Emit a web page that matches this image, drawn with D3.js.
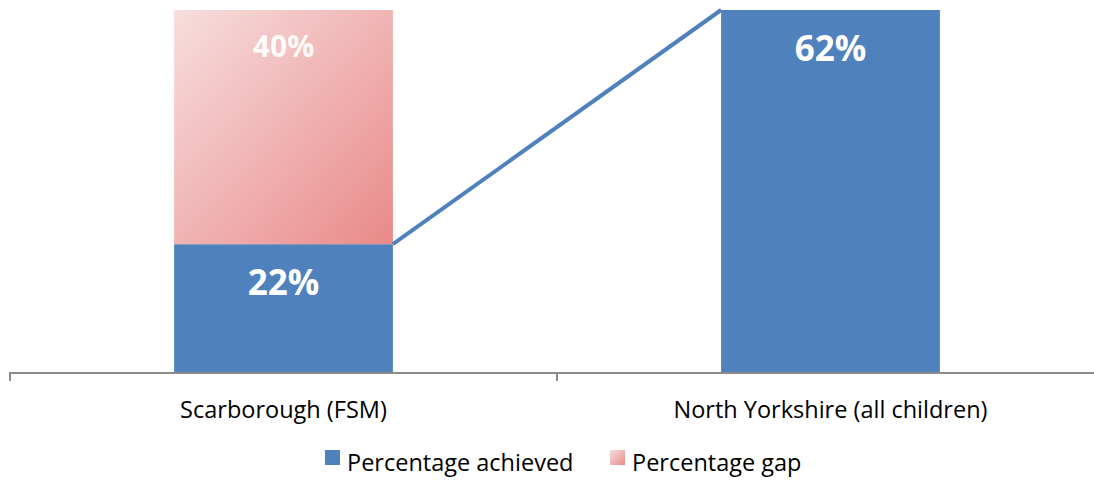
<!DOCTYPE html>
<html>
<head>
<meta charset="utf-8">
<script src="https://cdn.jsdelivr.net/npm/d3@7"></script>
<style>
  html, body { margin: 0; padding: 0; background: #fff; }
  svg { display: block; font-family: "Open Sans", Lato, sans-serif; }
</style>
</head>
<body>
<svg id="chart" width="1094" height="480"></svg>
<script>
// Chart data
const categories = ["Scarborough (FSM)", "North Yorkshire (all children)"];
const achieved = [22, 62];
const gap = [40, 0];
const seriesNames = ["Percentage achieved", "Percentage gap"];

const svg = d3.select("#chart");

const x = d3.scaleBand().domain(categories).range([10, 1104]).paddingInner(0).paddingOuter(0);
const barW = x.bandwidth() * 0.4;
const cx = c => x(c) + x.bandwidth() / 2;
const y = d3.scaleLinear().domain([0, 62]).range([373, 10]);

const blue = "#4F81BD";

// Diagonal gradient for the gap series
const defs = svg.append("defs");
const grad = defs.append("linearGradient").attr("id", "gapGrad")
  .attr("x1", "0").attr("y1", "0").attr("x2", "1").attr("y2", "1");
grad.append("stop").attr("offset", "0%").attr("stop-color", "#F7DEDE");
grad.append("stop").attr("offset", "100%").attr("stop-color", "#E98A89");

const rows = categories.map((c, i) => ({ c, a: achieved[i], g: gap[i] }));

// Achieved bars
svg.append("g").selectAll("rect").data(rows).join("rect")
  .attr("x", d => cx(d.c) - barW / 2)
  .attr("width", barW)
  .attr("y", d => y(d.a))
  .attr("height", d => y(0) - y(d.a))
  .attr("fill", blue);

// Gap bars stacked on top
svg.append("g").selectAll("rect").data(rows.filter(d => d.g > 0)).join("rect")
  .attr("x", d => cx(d.c) - barW / 2)
  .attr("width", barW)
  .attr("y", d => y(d.a + d.g))
  .attr("height", d => y(d.a) - y(d.a + d.g))
  .attr("fill", "url(#gapGrad)");

// Connector from the first achieved bar to the top of the second bar
svg.append("line")
  .attr("x1", cx(categories[0]) + barW / 2)
  .attr("y1", y(achieved[0]))
  .attr("x2", cx(categories[1]) - barW / 2)
  .attr("y2", y(achieved[1] + gap[1]))
  .attr("stroke", blue).attr("stroke-width", 4);

// Value labels, placed inside the top end of each segment
const lbl = svg.append("g").attr("fill", "#fff").attr("font-weight", "bold")
  .attr("text-anchor", "middle");
rows.forEach(d => {
  lbl.append("text").attr("x", cx(d.c)).attr("y", y(d.a) + 51)
    .attr("font-size", 35).text(d.a + "%");
  if (d.g > 0) {
    lbl.append("text").attr("x", cx(d.c)).attr("y", y(d.a + d.g) + 47)
      .attr("font-size", 30).attr("fill-opacity", 0.95).text(d.g + "%");
  }
});

// Category axis
const axis = svg.append("g").attr("transform", `translate(0,${y(0)})`);
axis.append("path").attr("d", `M10,8V0H1104`).attr("fill", "none")
  .attr("stroke", "#8c8c8c").attr("stroke-width", 2);
axis.selectAll("line.tick").data(categories.slice(1)).join("line")
  .attr("class", "tick")
  .attr("x1", d => x(d)).attr("x2", d => x(d)).attr("y1", 0).attr("y2", 8)
  .attr("stroke", "#8c8c8c").attr("stroke-width", 2);

svg.append("g").selectAll("text").data(categories).join("text")
  .attr("x", d => cx(d)).attr("y", 418)
  .attr("text-anchor", "middle").attr("font-size", 23.5).attr("fill", "#000")
  .text(d => d);

// Legend
const legend = svg.append("g");
const items = [
  { name: seriesNames[0], fill: blue, x: 325 },
  { name: seriesNames[1], fill: "url(#gapGrad)", x: 610 }
];
items.forEach(it => {
  legend.append("rect").attr("x", it.x).attr("y", 450).attr("width", 15).attr("height", 15)
    .attr("fill", it.fill);
  legend.append("text").attr("x", it.x + 22).attr("y", 471)
    .attr("font-size", 23.5).attr("fill", "#000").text(it.name);
});
</script>
</body>
</html>
